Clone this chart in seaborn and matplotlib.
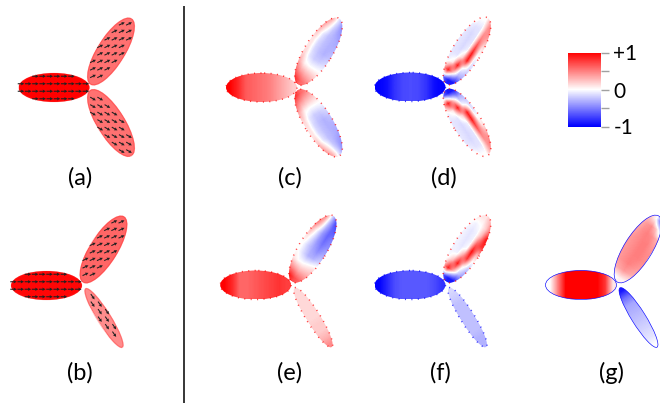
import numpy as np
import matplotlib
matplotlib.use("Agg")
import matplotlib.pyplot as plt
from matplotlib.patches import Ellipse
from matplotlib.transforms import Affine2D
import seaborn as sns

# ---------------- data (colour value on the -1..+1 scale) ----------------
# left arm: one row, columns run from the junction end to the outer end
# upper / lower arms: rows run from the left-facing side to the right-facing side,
#                     columns run from the junction end to the outer end
panel_labels = ["(a)", "(b)", "(c)", "(d)", "(e)", "(f)", "(g)"]
cbar_ticks = [-1, -0.5, 0, 0.5, 1]
cbar_ticklabels = ["-1", "", "0", "", "+1"]

a_left = [[1.0]]
a_up = [[0.55]]
a_low = [[0.55]]
a_arrow_deg = [0, 26, -30]

b_left = [[0.97]]
b_up = [[0.6]]
b_low = [[0.45]]
b_arrow_deg = [0, 25, -55]

c_left = [[0.2, 0.3, 0.4, 0.5, 0.55, 0.6, 0.65, 0.85, 1.0]]
c_up = [[0.9, 0.6, 0.3, 0.15, 0.1, 0.1, 0.2, 0.4, 0.6],
        [0.8, 0.4, 0.05, -0.1, -0.15, -0.15, -0.1, 0.1, 0.3],
        [0.6, 0.3, 0.0, -0.2, -0.25, -0.25, -0.25, -0.2, -0.1],
        [0.5, 0.25, 0.0, -0.2, -0.3, -0.3, -0.3, -0.35, -0.4],
        [0.4, 0.2, 0.0, -0.15, -0.25, -0.3, -0.35, -0.45, -0.6]]
c_low = [[0.9, 0.6, 0.3, 0.15, 0.1, 0.1, 0.2, 0.4, 0.6],
         [0.8, 0.4, 0.05, -0.1, -0.15, -0.15, -0.1, 0.1, 0.3],
         [0.6, 0.3, 0.0, -0.2, -0.25, -0.25, -0.25, -0.2, -0.1],
         [0.5, 0.25, 0.0, -0.2, -0.3, -0.3, -0.3, -0.35, -0.4],
         [0.4, 0.2, 0.0, -0.15, -0.25, -0.3, -0.35, -0.45, -0.6]]

d_left = [[-1.0, -0.95, -0.8, -0.72, -0.7, -0.72, -0.8, -0.95, -1.0]]
d_up = [[-0.3, 0.3, -0.05, -0.1, -0.1, -0.1, -0.1, -0.05, 0.2],
        [-0.6, 0.9, 0.1, -0.1, -0.15, -0.15, -0.15, -0.1, 0.0],
        [-0.9, 0.2, 0.9, 0.2, -0.05, -0.1, -0.1, -0.1, 0.0],
        [-0.9, -0.3, 0.0, 0.9, 0.9, 0.7, 0.5, 0.4, 0.4],
        [-0.7, -0.3, -0.15, -0.1, 0.0, 0.1, 0.3, 0.5, 0.8]]
d_low = [[-0.3, 0.3, -0.05, -0.1, -0.1, -0.1, -0.1, -0.05, 0.2],
         [-0.6, 0.9, 0.1, -0.1, -0.15, -0.15, -0.15, -0.1, 0.0],
         [-0.9, 0.2, 0.9, 0.2, -0.05, -0.1, -0.1, -0.1, 0.0],
         [-0.9, -0.3, 0.0, 0.9, 0.9, 0.7, 0.5, 0.4, 0.4],
         [-0.7, -0.3, -0.15, -0.1, 0.0, 0.1, 0.3, 0.5, 0.8]]

e_left = [[0.75, 0.8, 0.75, 0.7, 0.65, 0.6, 0.6, 0.85, 1.0]]
e_up = [[0.9, 0.5, 0.1, 0.0, 0.0, 0.1, 0.3, 0.6, 0.7],
        [0.9, 0.4, 0.0, -0.15, -0.2, -0.15, -0.05, 0.2, 0.4],
        [0.7, 0.3, 0.0, -0.3, -0.35, -0.4, -0.4, -0.3, -0.2],
        [0.6, 0.3, 0.05, -0.3, -0.45, -0.55, -0.6, -0.6, -0.7],
        [0.5, 0.3, 0.1, -0.2, -0.35, -0.45, -0.5, -0.7, -0.9]]
e_low = [[0.15, 0.15, 0.15, 0.15, 0.15, 0.2, 0.2, 0.3, 0.45]]

f_left = [[-0.8, -0.7, -0.65, -0.65, -0.65, -0.65, -0.7, -0.85, -1.0]]
f_up = [[-0.5, 0.3, 0.0, -0.05, -0.05, -0.05, -0.05, 0.0, 0.2],
        [-0.7, 0.9, 0.3, -0.05, -0.1, -0.1, -0.1, -0.05, 0.1],
        [-0.9, 0.3, 0.9, 0.4, 0.0, -0.05, -0.05, 0.0, 0.1],
        [-0.9, -0.2, 0.1, 0.8, 0.95, 0.6, 0.3, 0.2, 0.3],
        [-0.6, -0.4, -0.2, 0.0, 0.3, 0.8, 0.9, 0.6, 0.6]]
f_low = [[-0.15, -0.2, -0.25, -0.25, -0.25, -0.25, -0.25, -0.3, -0.3]]

g_left = [[0.1, 0.8, 1.0, 1.0, 1.0, 1.0, 1.0, 0.5, 0.0]]
g_up = [[0.0, 0.3, 0.4, 0.4, 0.4, 0.4, 0.35, 0.3, 0.2],
        [0.0, 0.35, 0.45, 0.45, 0.45, 0.45, 0.45, 0.4, 0.2],
        [0.05, 0.4, 0.5, 0.5, 0.5, 0.5, 0.5, 0.45, 0.0],
        [0.05, 0.35, 0.45, 0.5, 0.5, 0.5, 0.45, 0.2, -0.6],
        [0.0, 0.3, 0.4, 0.45, 0.45, 0.4, 0.3, -0.3, -1.0]]
g_low = [[-0.9, -0.55, -0.35, -0.3, -0.25, -0.2, -0.15, -0.1, 0.0]]

# ---------------- layout (pixel positions, y measured downward) ----------------
W, H = 660, 403
panels = [
    dict(f=(a_left, a_up, a_low), o=(54, 87.5), lab=(80, 177.5), thin=False, arrows=a_arrow_deg, edge="rim"),
    dict(f=(b_left, b_up, b_low), o=(46.5, 285.5), lab=(80, 373), thin=True, arrows=b_arrow_deg, edge="rim"),
    dict(f=(c_left, c_up, c_low), o=(261.5, 87.5), lab=(290, 177.5), thin=False, arrows=None, edge=("r", "r", "r")),
    dict(f=(d_left, d_up, d_low), o=(410, 87), lab=(444, 177.5), thin=False, arrows=None, edge=("b", "r", "r")),
    dict(f=(e_left, e_up, e_low), o=(255.7, 285), lab=(290, 373), thin=True, arrows=None, edge=("r", "r", "r")),
    dict(f=(f_left, f_up, f_low), o=(410, 285), lab=(440.5, 373), thin=True, arrows=None, edge=("b", "r", "b")),
    dict(f=(g_left, g_up, g_low), o=(581, 285), lab=(611, 373), thin=True, arrows=None, edge="solid"),
]

sns.set_theme(style="white")
plt.rcParams["font.family"] = ["Lato", "DejaVu Sans"]

fig = plt.figure(figsize=(W / 100, H / 100), dpi=100)
ax = fig.add_axes([0, 0, 1, 1])

EDGE_COL = {"r": "#ff0000", "b": "#0000ff"}


def draw_arm(field, cx, cy, a, b, phi, origin, edge):
    arr = np.asarray(field, dtype=float)
    tr = Affine2D().rotate_deg(phi).translate(cx, cy) + ax.transData
    im = ax.imshow(arr, cmap="bwr", vmin=-1, vmax=1, extent=(-a, a, -b, b),
                   origin=origin, interpolation="bilinear", transform=tr, zorder=2)
    clip = Ellipse((cx, cy), 2 * a, 2 * b, angle=phi, facecolor="none",
                   edgecolor="none", transform=ax.transData)
    ax.add_patch(clip)
    im.set_clip_path(clip)
    if edge == "solid":
        ax.add_patch(Ellipse((cx, cy), 2 * a, 2 * b, angle=phi, facecolor="none",
                             edgecolor="#0000ff", lw=0.45, zorder=3))
    elif edge == "rim":
        ax.add_patch(Ellipse((cx, cy), 2 * a - 1, 2 * b - 1, angle=phi, facecolor="none",
                             edgecolor="#ff2020", lw=1.0, alpha=0.3, zorder=3))
    elif edge is not None:
        ax.add_patch(Ellipse((cx, cy), 2 * a, 2 * b, angle=phi, facecolor="none",
                             edgecolor=EDGE_COL[edge], lw=1.1, ls=(0, (0.7, 3.5)),
                             alpha=0.75, zorder=3))
    return (cx, cy, a, b, phi)


def inside(px, py, geo, frac):
    cx, cy, a, b, phi = geo
    t = np.deg2rad(phi)
    dx, dy = px - cx, py - cy
    u = dx * np.cos(t) + dy * np.sin(t)
    v = -dx * np.sin(t) + dy * np.cos(t)
    return (u / a) ** 2 + (v / b) ** 2 < frac ** 2


for idx, p in enumerate(panels):
    ox, oy_pix = p["o"]
    oy = H - oy_pix
    fl, fu, fd = p["f"]
    edges = p["edge"]
    if isinstance(edges, str):
        e3 = (edges,) * 3
    else:
        e3 = edges
    geos = []
    geos.append(draw_arm(fl, ox, oy, 35.5, 14.5, 180, "lower", e3[0]))
    geos.append(draw_arm(fu, ox + 57, oy + 36, 39, 14, 58, "upper", e3[1]))
    if p["thin"]:
        geos.append(draw_arm(fd, ox + 57.5, oy - 32.5, 35, 7, -58, "lower", e3[2]))
    else:
        geos.append(draw_arm(fd, ox + 57, oy - 35.5, 39, 14, -58, "lower", e3[2]))

    if p["arrows"] is not None:
        k = np.arange(-8, 18)
        gx, gy = np.meshgrid(ox - 33 + 7.2 * k, oy - 3.75 - 60 + 7.5 * k)
        gx, gy = gx.ravel().astype(float), gy.ravel().astype(float)
        for j, (geo, ang) in enumerate(zip(geos, p["arrows"])):
            frac = 0.97 if j == 0 else 0.9
            m = inside(gx, gy, geo, frac)
            L = 6.5
            ax.quiver(gx[m], gy[m], np.full(m.sum(), L * np.cos(np.deg2rad(ang))),
                      np.full(m.sum(), L * np.sin(np.deg2rad(ang))),
                      angles="xy", scale_units="xy", scale=1, pivot="middle",
                      color="#202020", width=0.0016, headwidth=3.2, headlength=3.0,
                      headaxislength=2.7, zorder=5)

    lx, ly = p["lab"]
    ax.text(lx, H - ly, panel_labels[idx], ha="center", va="center",
            fontsize=17, color="black")

# divider
ax.vlines(184, 0, H - 6, color="black", lw=1.1)

ax.set_xlim(0, W)
ax.set_ylim(0, H)
ax.set_aspect("auto")
ax.axis("off")

# colour bar drawn by seaborn
dummy = fig.add_axes([0.001, 0.001, 0.002, 0.002])
cax = fig.add_axes([568 / W, 1 - 126.5 / H, 33 / W, 74 / H])
sns.heatmap(np.array([[0.0]]), ax=dummy, cmap="bwr", vmin=-1, vmax=1,
            cbar=True, cbar_ax=cax, xticklabels=False, yticklabels=False)
dummy.set_visible(False)
cb = dummy.collections[0].colorbar
cb.set_ticks(cbar_ticks)
cb.set_ticklabels(cbar_ticklabels)
cb.outline.set_visible(False)
cax.tick_params(axis="y", right=True, length=6, width=1, color="#a0a0a0",
                labelsize=15, pad=3, labelcolor="black")

fig.savefig("out.png", dpi=100)
